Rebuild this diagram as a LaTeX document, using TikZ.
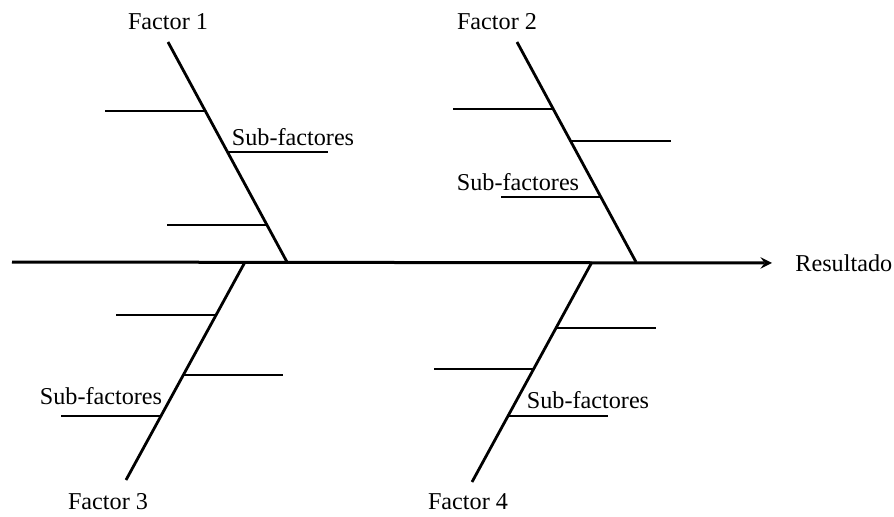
\documentclass[tikz,border=0pt]{standalone}
\usepackage{fontspec}
\setmainfont{Liberation Serif}
\usepackage{tikz}
\usetikzlibrary{positioning, calc}

\begin{document}
\begin{tikzpicture}[
    x=0.5pt, y=-0.5pt,
    font=\fontsize{12.1}{14}\selectfont,
    spine/.style={line width=1.5pt, black},
    bone/.style={line width=1.4pt, black},
    sub/.style={line width=0.7pt, black},
    label/.style={inner sep=2pt}
  ]
    \useasboundingbox (0,0) rectangle (894,516);

    % Nodes
    \node (f1) [label] at (168,22) {Factor 1};
    \node (f2) [label] at (497,22) {Factor 2};
    \node (f3) [label] at (108,502) {Factor 3};
    \node (f4) [label] at (468,502) {Factor 4};
    \node (res) [anchor=west, inner sep=0pt] at (795,263) {Resultado};

    \node (s1) [label] at (293,137) {Sub-factores};
    \node (s2) [label] at (518,182) {Sub-factores};
    \node (s3) [label] at (101,396) {Sub-factores};
    \node (s4) [label] at (588,400) {Sub-factores};

    % Bone ends
    \coordinate (tail) at (12,262);
    \coordinate (f1top) at (168,42);   \coordinate (f1base) at (287,262);
    \coordinate (f2top) at (517,42);   \coordinate (f2base) at (636,262);
    \coordinate (f3bot) at (126,480);  \coordinate (f3base) at (245,262);
    \coordinate (f4bot) at (472,482);  \coordinate (f4base) at (592,262);

    % Arrows
    \draw [->, >=stealth, spine, shorten >=11.5pt] (tail) -- (res.west);
    \draw [bone] (f1top) -- (f1base);
    \draw [bone] (f2top) -- (f2base);
    \draw [bone] (f3base) -- (f3bot);
    \draw [bone] (f4base) -- (f4bot);

    % Sub-factores
    \foreach \a/\b/\t/\d in {f1top/f1base/0.314/-100, f1top/f1base/0.5/100, f1top/f1base/0.832/-100,
                             f2top/f2base/0.305/-100, f2top/f2base/0.45/100, f2top/f2base/0.705/-100,
                             f3base/f3bot/0.243/-100, f3base/f3bot/0.518/100, f3base/f3bot/0.706/-100,
                             f4base/f4bot/0.3/100, f4base/f4bot/0.486/-100, f4base/f4bot/0.7/100}
      \draw [sub] ($(\a)!\t!(\b)$) -- ++(\d,0);
  \end{tikzpicture}
\end{document}
